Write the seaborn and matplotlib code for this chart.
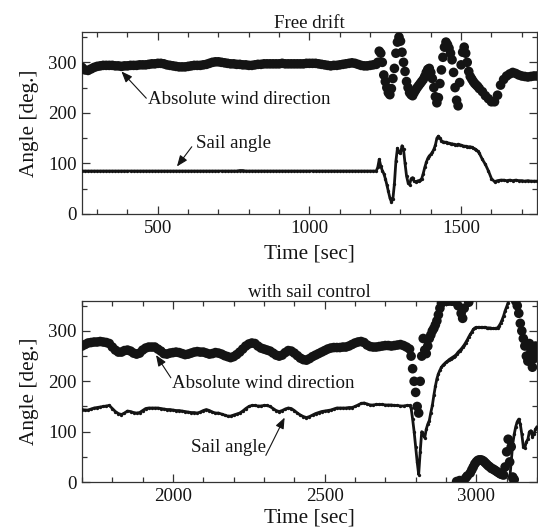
import numpy as np
import pandas as pd
import matplotlib
matplotlib.use("Agg")
import matplotlib.pyplot as plt
from matplotlib.ticker import MultipleLocator
import seaborn as sns

# ---- free drift run: 10 s samples, 5 s samples through the gusty part ----
top_time = np.concatenate([np.arange(250, 1220, 10),
                           np.arange(1220, 1560, 5),
                           np.arange(1560, 1751, 10)])
top_wind = [
    # 250 .. 1210 s
    290, 285, 284, 287, 290, 292, 293, 294, 294, 294,
    294, 293, 293, 292, 293, 293, 294, 294, 294, 295,
    295, 295, 296, 297, 297, 298, 298, 297, 295, 294,
    293, 292, 291, 291, 291, 292, 293, 294, 294, 294,
    295, 296, 298, 300, 301, 301, 300, 299, 298, 297,
    297, 296, 296, 295, 295, 294, 294, 295, 296, 296,
    297, 297, 297, 297, 297, 297, 298, 297, 297, 297,
    297, 297, 297, 297, 298, 298, 298, 298, 297, 296,
    295, 294, 293, 294, 294, 295, 296, 297, 298, 299,
    298, 296, 294, 293, 293, 294, 295,
    # 1220 .. 1555 s
    296, 300, 322, 318, 300, 275, 262, 250, 240, 236,
    248, 268, 288, 318, 340, 350, 342, 320, 300, 282,
    262, 250, 240, 236, 234, 240, 245, 250, 254, 258,
    262, 266, 272, 280, 286, 288, 280, 268, 250, 232,
    220, 230, 258, 285, 310, 330, 340, 335, 328, 318,
    305, 280, 250, 225, 214, 260, 295, 320, 330, 318,
    300, 282, 272, 267, 262, 258, 255, 252,
    # 1560 .. 1750 s
    248, 242, 234, 228, 222, 222, 235, 255, 266, 273,
    277, 280, 278, 275, 273, 272, 271, 272, 273, 273,
]
top_sail = [
    # 250 .. 1210 s
    85, 85, 85, 85, 85, 85, 85, 85, 85, 85,
    85, 85, 85, 85, 85, 85, 85, 85, 85, 85,
    85, 85, 85, 85, 85, 85, 85, 85, 85, 85,
    85, 85, 85, 85, 85, 85, 85, 85, 85, 85,
    85, 85, 85, 85, 85, 85, 85, 85, 85, 85,
    85, 85, 86, 86, 85, 85, 85, 85, 85, 85,
    85, 85, 85, 85, 85, 85, 85, 85, 85, 85,
    85, 85, 85, 85, 85, 85, 85, 85, 85, 85,
    85, 85, 85, 85, 85, 85, 85, 85, 85, 85,
    85, 85, 85, 85, 85, 85, 85,
    # 1220 .. 1555 s
    85, 92, 108, 95, 86, 80, 70, 58, 45, 32,
    24, 30, 60, 105, 130, 122, 120, 135, 128, 100,
    75, 62, 58, 70, 72, 65, 64, 65, 66, 67,
    70, 80, 92, 102, 110, 115, 118, 122, 128, 136,
    150, 154, 150, 145, 143, 142, 142, 141, 140, 139,
    139, 138, 137, 137, 138, 137, 136, 135, 134, 134,
    133, 133, 133, 132, 130, 129, 127, 124,
    # 1560 .. 1750 s
    120, 108, 98, 85, 70, 64, 66, 67, 67, 66,
    67, 66, 67, 66, 66, 65, 66, 65, 65, 65,
]

# ---- run with sail control: 10 s samples, 5 s from 2780 s on ----
bottom_time = np.concatenate([np.arange(1700, 2780, 10),
                              np.arange(2780, 3201, 5)])
bottom_wind = [
    # 1700 .. 2770 s
    270, 273, 276, 277, 278, 278, 279, 278, 277, 275,
    268, 262, 258, 258, 261, 262, 260, 256, 254, 256,
    262, 266, 268, 268, 268, 264, 260, 255, 254, 256,
    257, 258, 257, 255, 253, 254, 256, 258, 259, 258,
    258, 256, 254, 255, 257, 256, 254, 251, 249, 247,
    249, 253, 258, 264, 270, 274, 276, 275, 270, 266,
    264, 262, 260, 256, 252, 250, 252, 257, 261, 260,
    256, 251, 246, 243, 242, 245, 249, 252, 255, 258,
    261, 264, 266, 267, 267, 267, 268, 268, 270, 273,
    276, 278, 279, 277, 272, 269, 268, 268, 269, 270,
    271, 271, 270, 271, 272, 273, 271, 268,
    # 2780 .. 3200 s
    264, 250, 225, 200, 178, 150, 137, 200, 250, 285,
    262, 255, 270, 285, 292, 300, 305, 312, 320, 332,
    345, 355, 358, 360, 360, 359, 360, 360, 359, 360,
    358, 1, 350, 3, 335, 325, 345, 8, 12, 357,
    18, 24, 30, 36, 40, 43, 44, 44, 43, 41,
    38, 35, 32, 30, 27, 26, 24, 22, 20, 18,
    16, 15, 14, 30, 60, 85, 40, 70, 10, 5,
    359, 350, 335, 315, 300, 285, 270, 250, 240, 275,
    260, 228, 245, 270, 255,
]
bottom_sail = [
    # 1700 .. 2770 s
    144, 143, 143, 145, 147, 148, 149, 150, 151, 152,
    146, 140, 136, 134, 137, 141, 140, 138, 137, 138,
    142, 146, 147, 147, 147, 147, 146, 145, 144, 144,
    143, 142, 142, 141, 140, 139, 138, 138, 137, 139,
    142, 144, 142, 139, 137, 137, 135, 133, 131, 131,
    133, 135, 137, 141, 146, 150, 152, 152, 151, 151,
    152, 152, 150, 146, 142, 140, 142, 145, 147, 146,
    142, 137, 133, 130, 128, 130, 133, 136, 138, 140,
    141, 142, 143, 145, 147, 147, 147, 147, 148, 148,
    150, 153, 156, 157, 155, 153, 153, 154, 154, 154,
    153, 153, 153, 152, 152, 151, 151, 152,
    # 2780 .. 3200 s
    152, 147, 125, 100, 70, 40, 15, 60, 100, 95,
    88, 105, 115, 122, 138, 152, 172, 190, 205, 215,
    222, 228, 232, 235, 238, 240, 243, 245, 247, 249,
    251, 254, 258, 261, 264, 268, 272, 277, 282, 288,
    293, 298, 303, 306, 307, 307, 307, 307, 307, 307,
    307, 306, 306, 306, 305, 305, 305, 305, 306, 310,
    315, 322, 330, 340, 348, 356, 5, 40, 75, 95,
    110, 120, 125, 115, 95, 70, 68, 80, 85, 100,
    102, 90, 95, 105, 110,
]

INK = "#141414"
FS_TICK = 13.6
FS_LABEL = 15.3

sns.set_theme(style="ticks")
plt.rcParams["font.family"] = ["Liberation Serif", "DejaVu Serif"]


def draw_panel(ax, time, wind, sail, xlim, title, notes, xlabel_pad):
    # a new line segment starts wherever the angle wraps past 360 deg
    wrap = np.r_[0, np.cumsum(np.abs(np.diff(sail)) > 180)]
    df = pd.DataFrame({"time": time, "wind": wind, "sail": sail, "seg": wrap})

    sns.scatterplot(data=df, x="time", y="wind", ax=ax, s=48, color=INK,
                    edgecolor="none", linewidth=0, legend=False, zorder=3)
    sns.lineplot(data=df, x="time", y="sail", units="seg", estimator=None,
                 ax=ax, color=INK, lw=2.0, marker="o", markersize=2.4,
                 markeredgewidth=0, legend=False, zorder=3)

    ax.set_xlim(*xlim)
    ax.set_ylim(0, 360)
    ax.xaxis.set_major_locator(MultipleLocator(500))
    ax.xaxis.set_minor_locator(MultipleLocator(100))
    ax.yaxis.set_major_locator(MultipleLocator(100))
    ax.yaxis.set_minor_locator(MultipleLocator(50))
    ax.tick_params(which="both", direction="in", top=True, right=True,
                   color="#333333", width=0.9, labelsize=FS_TICK,
                   labelcolor=INK)
    ax.tick_params(which="major", length=6, pad=4)
    ax.tick_params(which="minor", length=3.5)
    for sp in ax.spines.values():
        sp.set_color("#333333")
        sp.set_linewidth(0.9)

    ax.set_title(title, fontsize=FS_TICK, pad=3, color=INK)
    ax.set_xlabel("Time [sec]", fontsize=FS_LABEL, labelpad=xlabel_pad,
                  color=INK)
    ax.set_ylabel("Angle [deg.]", fontsize=FS_LABEL, labelpad=6, color=INK)

    arrow = dict(arrowstyle="-|>,head_length=0.55,head_width=0.22",
                 color=INK, lw=0.8, shrinkA=0, shrinkB=0, mutation_scale=12)
    for text, text_xy, tail, head in notes:
        ax.annotate("", xy=head, xytext=tail, arrowprops=arrow, zorder=4)
        ax.text(*text_xy, text, fontsize=FS_TICK, ha="left", va="center",
                color=INK, zorder=4)


fig = plt.figure(figsize=(5.38, 5.28), dpi=100)
ax_top = fig.add_axes([0.1524, 0.5947, 0.8457, 0.3447])
ax_bot = fig.add_axes([0.1524, 0.0870, 0.8457, 0.3435])

draw_panel(
    ax_top, top_time, top_wind, top_sail, (250, 1750), "Free drift",
    [("Absolute wind direction", (468, 227), (462, 229), (380, 282)),
     ("Sail angle", (625, 139), (612, 133), (563, 94))],
    xlabel_pad=6,
)
draw_panel(
    ax_bot, bottom_time, bottom_wind, bottom_sail, (1700, 3200),
    "with sail control",
    [("Absolute wind direction", (1996, 195), (1993, 207), (1944, 252)),
     ("Sail angle", (2058, 69), (2306, 53), (2368, 128))],
    xlabel_pad=2.5,
)

fig.savefig("out.png", dpi=100)
